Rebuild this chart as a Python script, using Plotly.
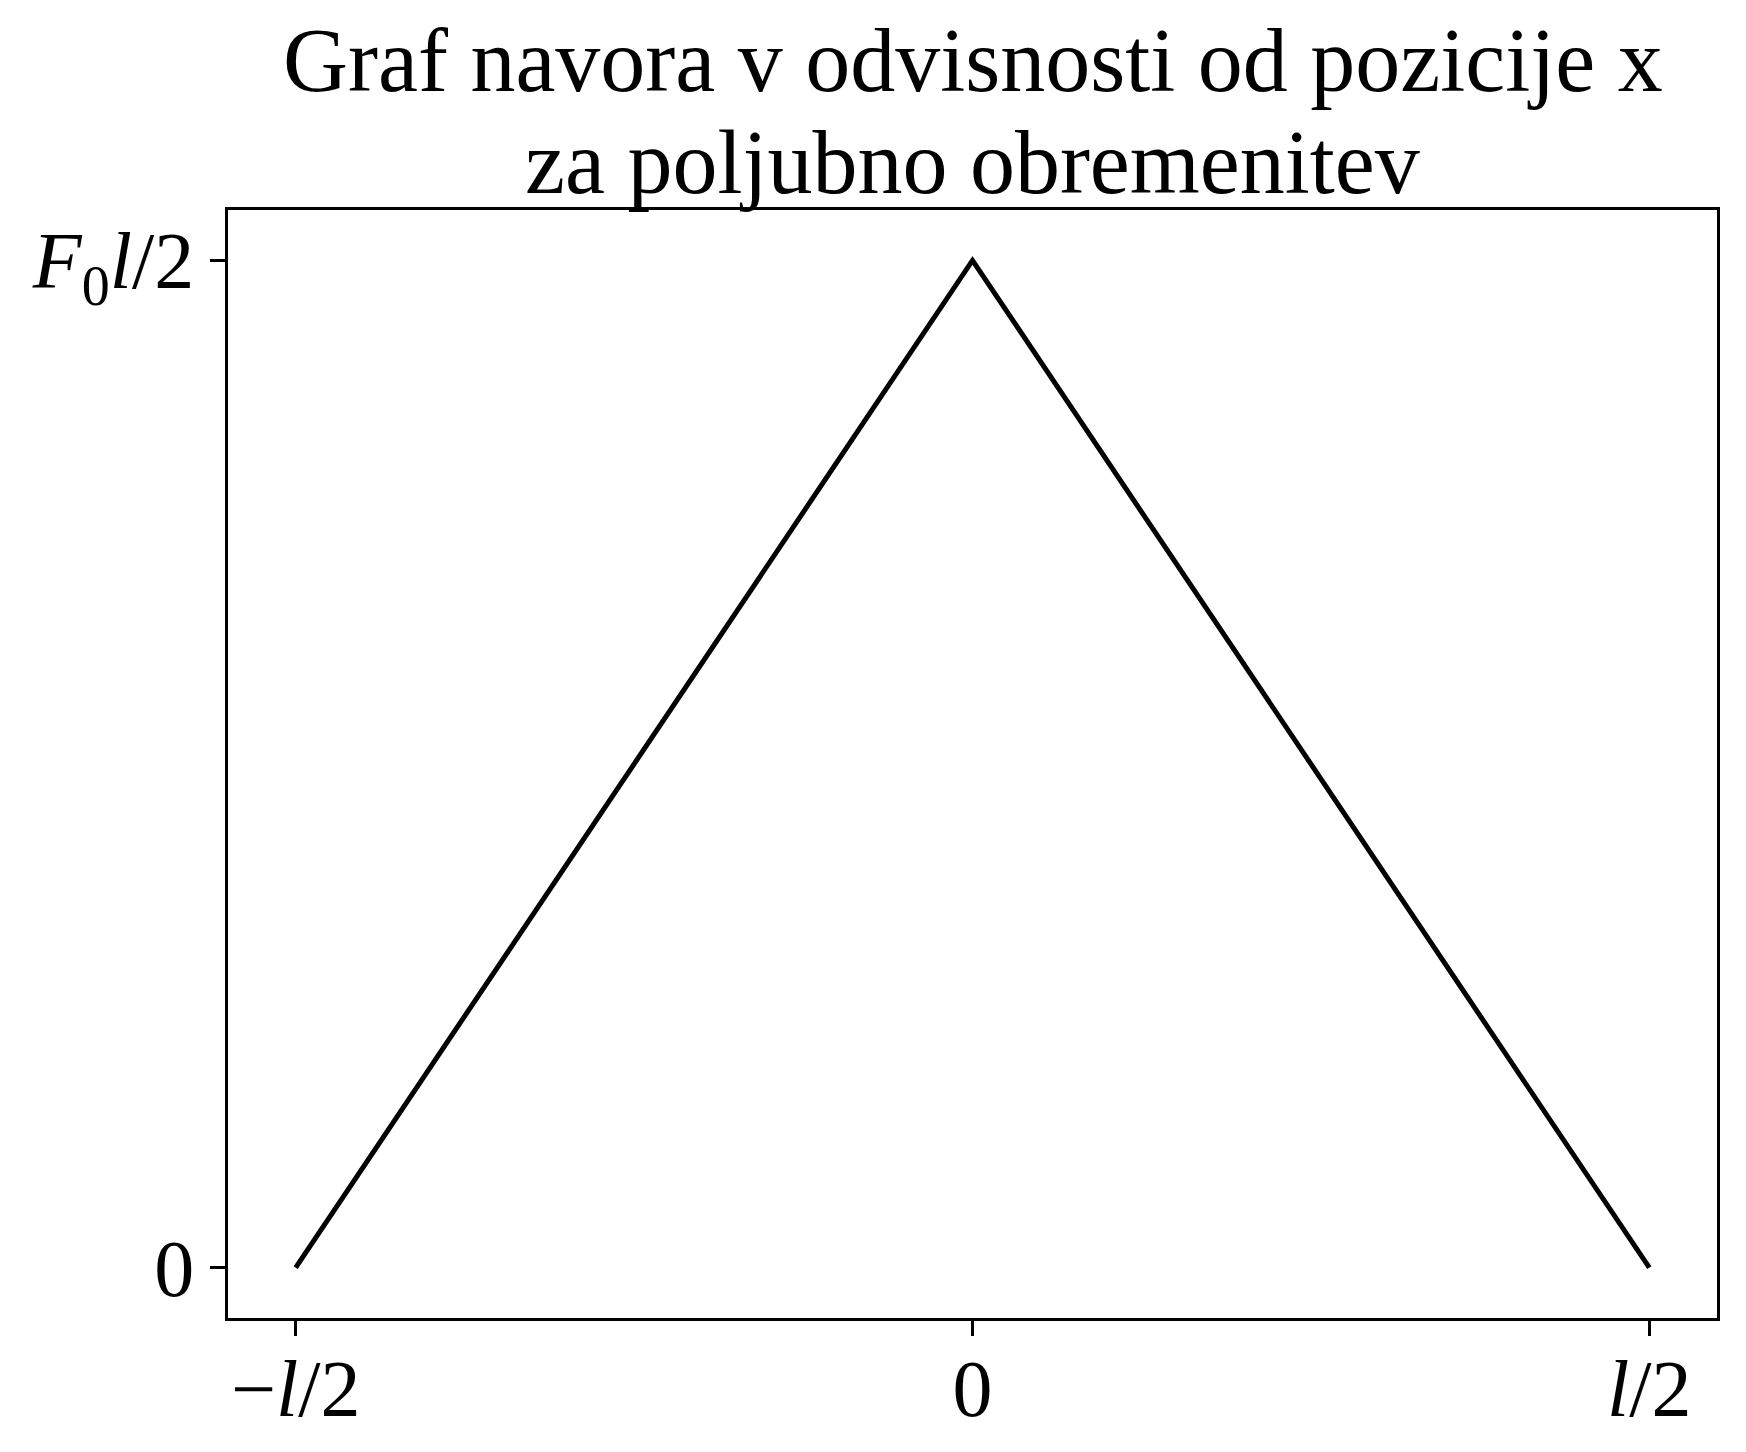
import plotly.graph_objects as go

# Data (F0 = 1, l = 1): torque vs position x
x_vals = [-0.5, 0.0, 0.5]
m_vals = [0.0, 0.5, 0.0]

x_tickvals = [-0.5, 0.0, 0.5]
x_ticktext = ["−<i>l</i>/2", "0", "<i>l</i>/2"]
y_tickvals = [0.0, 0.5]
y_ticktext = ["0", "<i>F</i><sub>0</sub><i>l</i>/2"]

title_lines = ["Graf navora v odvisnosti od pozicije x", "za poljubno obremenitev"]

FONT = "Liberation Serif"
W, H = 1746, 1452
ML, MR, MT, MB = 228, 29, 210, 134
PH = H - MT - MB

fig = go.Figure()
fig.add_trace(go.Scatter(x=x_vals, y=m_vals, mode="lines",
                         line=dict(color="black", width=5), showlegend=False))

axis_common = dict(showgrid=False, zeroline=False, showline=True, mirror=True,
                   linecolor="black", linewidth=2.7, ticks="outside", ticklen=15,
                   tickwidth=2.5, tickcolor="black", automargin=False,
                   tickfont=dict(family=FONT, size=80, color="black"))

fig.update_xaxes(range=[-0.55, 0.55], tickmode="array", tickvals=x_tickvals,
                 ticktext=x_ticktext, ticklabelstandoff=-16, **axis_common)
fig.update_yaxes(range=[-0.025, 0.525], tickmode="array", tickvals=y_tickvals,
                 ticktext=y_ticktext, **axis_common)

# title lines as annotations, placed by their vertical centres (pixels from top)
centres = [60, 162]
for txt, cy in zip(title_lines, centres):
    fig.add_annotation(text=txt, x=0.5, xref="paper", xanchor="center",
                       y=(H - MB - cy) / PH, yref="paper", yanchor="middle",
                       showarrow=False,
                       font=dict(family=FONT, size=90, color="black"))

fig.update_layout(
    width=W, height=H,
    margin=dict(l=ML, r=MR, t=MT, b=MB),
    paper_bgcolor="white", plot_bgcolor="white",
)

fig.write_html("out.html")
